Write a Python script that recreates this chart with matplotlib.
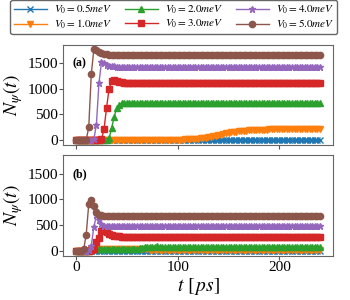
import numpy as np
import matplotlib
matplotlib.use("Agg")
import matplotlib.pyplot as plt

plt.rcParams['font.family'] = ['Liberation Serif', 'DejaVu Serif']
plt.rcParams['mathtext.fontset'] = 'stix'

# time grid (ps), 2.5 ps steps from 0 to 240
t = np.linspace(0, 240, 97)

labels = [r'$V_0=0.5meV$', r'$V_0=1.0meV$', r'$V_0=2.0meV$',
          r'$V_0=3.0meV$', r'$V_0=4.0meV$', r'$V_0=5.0meV$']
markers = ['x', 'v', '^', 's', '*', 'o']
colors = ['C0', 'C1', 'C2', 'C3', 'C4', 'C5']

# panel (a)
a_05 = [0] * 97
a_10 = [10] * 43 + [12, 14, 16, 19, 22, 26, 31, 37, 44, 52,
                    62, 72, 84, 96, 108, 119, 130, 140, 149, 157,
                    164, 170, 175, 180, 184, 188, 191, 194, 196, 198,
                    200, 202, 204, 206, 207, 209, 210, 212, 213, 214,
                    215, 216, 217, 218, 218, 219, 220, 220, 221, 221,
                    221, 222, 222, 222]
a_20 = [0] * 13 + [30, 230, 455, 620, 690, 715, 722] + [725] * 77
a_30 = [0] * 10 + [15, 209, 632, 997, 1160, 1165, 1145, 1132, 1125] + [1120] * 78
a_40 = [0] * 7 + [20, 293, 1108, 1519, 1500, 1470, 1452, 1442, 1437] + [1433] * 81
a_50 = [0] * 5 + [260, 1290, 1773, 1760, 1720, 1695, 1680, 1672, 1667, 1664] + [1662] * 82

# panel (b)
b_05 = [0] * 97
b_10 = [0] * 6 + [25] * 23 + [22, 19, 16, 13, 11, 9, 8, 7, 6] + [5] * 59
b_20 = [0] * 6 + [20] + [25] * 16 + [30, 38, 46, 55, 63, 70, 76, 80, 82, 83,
                                     82, 80, 78, 76, 74, 72] + [70] * 58
b_30 = [0] * 6 + [5, 40, 170, 254, 377, 395, 370, 330, 305, 292, 285, 280] + [276] * 79
b_40 = [0] * 5 + [20, 100, 456, 690, 600, 520, 490, 478] + [473] * 84
b_50 = [0] * 3 + [30, 313, 913, 990, 870, 750, 700, 690] + [685] * 86

panel_a = [a_05, a_10, a_20, a_30, a_40, a_50]
panel_b = [b_05, b_10, b_20, b_30, b_40, b_50]

fig = plt.figure(figsize=(3.5, 3.0), dpi=100)
ax1 = fig.add_axes([0.181, 0.517, 0.771, 0.334])
ax2 = fig.add_axes([0.181, 0.148, 0.771, 0.335], sharex=ax1, sharey=ax1)

for ax, data, tag in [(ax1, panel_a, '(a)'), (ax2, panel_b, '(b)')]:
    for y, lab, m, c in zip(data, labels, markers, colors):
        ax.plot(t, y, color=c, marker=m, markersize=4.5, linewidth=1, label=lab)
    ax.text(0.035, 0.78, tag, transform=ax.transAxes, fontsize=8.5, fontweight='bold')
    ax.set_ylabel(r'$N_\psi(t)$', fontsize=14, labelpad=2)
    ax.set_yticks([0, 500, 1000, 1500])
    ax.tick_params(labelsize=11, length=3, width=0.8, color='#555555', pad=1)
    for s in ax.spines.values():
        s.set_color('#666666')
        s.set_linewidth(0.8)

ax1.set_xlim(-12.5, 253)
ax1.set_ylim(-95, 1862)
ax1.set_xticks([0, 100, 200])
ax1.tick_params(labelbottom=False)
ax2.set_xlabel(r'$t\ [\,ps]$', fontsize=14, labelpad=1)

handles, labs = ax1.get_legend_handles_labels()
fig.legend(handles, labs, loc='lower left', bbox_to_anchor=(0.014, 0.867, 0.966, 0.093),
           mode='expand', ncol=3, fontsize=8, handlelength=3, borderpad=0.3,
           labelspacing=0.1, columnspacing=1.0, handletextpad=0.6,
           edgecolor='#666666', framealpha=1)

fig.savefig('out.png', dpi=100)
